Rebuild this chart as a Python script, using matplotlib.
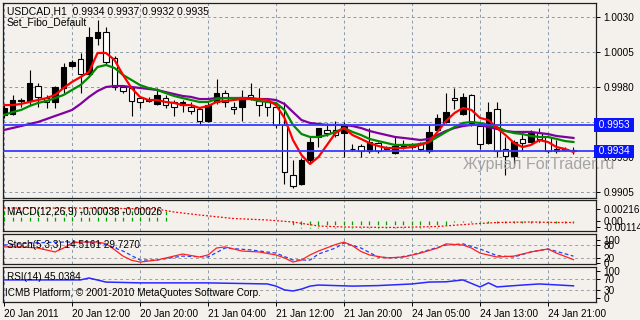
import numpy as np
import matplotlib
matplotlib.use("Agg")
import matplotlib.pyplot as plt

plt.rcParams['font.family'] = ['Liberation Sans', 'DejaVu Sans']

# ---- price data (USDCAD H1), one entry per bar ----
opens = [0.9960, 0.9961, 0.9970, 0.9970, 0.9981, 0.9972, 0.9969, 0.9979, 0.9995, 1.0000,
         0.9989, 1.0015, 1.0019, 1.0001, 0.9980, 0.9979, 0.9972, 0.9971, 0.9968, 0.9972,
         0.9969, 0.9967, 0.9966, 0.9964, 0.9956, 0.9969, 0.9976, 0.9966, 0.9966, 0.9974,
         0.9970, 0.9969, 0.9966, 0.9953, 0.9917, 0.9911, 0.9928, 0.9944, 0.9949, 0.9949,
         0.9947, 0.9936, 0.9938, 0.9934, 0.9940, 0.9937, 0.9933, 0.9937, 0.9937, 0.9940,
         0.9934, 0.9949, 0.9955, 0.9972, 0.9961, 0.9974, 0.9952, 0.9940, 0.9964, 0.9936,
         0.9931, 0.9943, 0.9941, 0.9947, 0.9944, 0.9934, 0.9935, 0.9934]
highs = [0.9967, 0.9974, 0.9972, 0.9992, 0.9983, 0.9974, 0.9981, 0.9997, 0.9999, 1.0004,
         1.0023, 1.0028, 1.0023, 1.0002, 0.9981, 0.9980, 0.9973, 0.9973, 0.9979, 0.9974,
         0.9971, 0.9971, 0.9969, 0.9965, 0.9969, 0.9986, 0.9978, 0.9969, 0.9978, 0.9983,
         0.9979, 0.9972, 0.9967, 0.9969, 0.9928, 0.9929, 0.9944, 0.9951, 0.9954, 0.9956,
         0.9955, 0.9939, 0.9939, 0.9951, 0.9941, 0.9938, 0.9944, 0.9942, 0.9940, 0.9941,
         0.9953, 0.9961, 0.9976, 0.9979, 0.9976, 0.9975, 0.9953, 0.9969, 0.9969, 0.9944,
         0.9942, 0.9947, 0.9949, 0.9951, 0.9946, 0.9942, 0.9937, 0.9937]
lows = [0.9958, 0.9960, 0.9966, 0.9967, 0.9966, 0.9965, 0.9965, 0.9976, 0.9994, 0.9976,
        0.9987, 1.0010, 0.9996, 0.9978, 0.9976, 0.9959, 0.9965, 0.9969, 0.9967, 0.9965,
        0.9959, 0.9962, 0.9961, 0.9953, 0.9955, 0.9968, 0.9966, 0.9961, 0.9956, 0.9971,
        0.9959, 0.9959, 0.9951, 0.9911, 0.9908, 0.9910, 0.9926, 0.9937, 0.9945, 0.9944,
        0.9930, 0.9934, 0.9930, 0.9933, 0.9933, 0.9935, 0.9932, 0.9936, 0.9936, 0.9934,
        0.9933, 0.9948, 0.9954, 0.9964, 0.9960, 0.9952, 0.9936, 0.9939, 0.9930, 0.9917,
        0.9923, 0.9934, 0.9940, 0.9941, 0.9933, 0.9933, 0.9934, 0.9932]
closes = [0.9965, 0.9971, 0.9971, 0.9983, 0.9973, 0.9969, 0.9980, 0.9994, 0.9998, 0.9989,
          1.0016, 1.0019, 0.9998, 0.9980, 0.9977, 0.9970, 0.9969, 0.9970, 0.9974, 0.9967,
          0.9966, 0.9969, 0.9963, 0.9956, 0.9967, 0.9976, 0.9969, 0.9964, 0.9973, 0.9972,
          0.9967, 0.9966, 0.9953, 0.9919, 0.9909, 0.9928, 0.9941, 0.9951, 0.9947, 0.9946,
          0.9953, 0.9936, 0.9934, 0.9941, 0.9934, 0.9936, 0.9938, 0.9939, 0.9939, 0.9936,
          0.9948, 0.9958, 0.9962, 0.9971, 0.9973, 0.9954, 0.9939, 0.9962, 0.9934, 0.9931,
          0.9941, 0.9940, 0.9948, 0.9943, 0.9934, 0.9936, 0.9936, 0.9935]

# moving averages
ma_red = [0.99671, 0.99671, 0.99679, 0.99693, 0.99707, 0.99721, 0.99743, 0.99793, 0.99836, 0.99871,
          0.99907, 1.00043, 1.00043, 0.99993, 0.99886, 0.99793, 0.99729, 0.99707, 0.99707, 0.99693,
          0.99686, 0.99671, 0.99671, 0.99650, 0.99664, 0.99693, 0.99700, 0.99707, 0.99714, 0.99714,
          0.99714, 0.99707, 0.99671, 0.99579, 0.99421, 0.99314, 0.99250, 0.99300, 0.99386, 0.99471,
          0.99507, 0.99457, 0.99429, 0.99400, 0.99379, 0.99364, 0.99364, 0.99364, 0.99371, 0.99386,
          0.99407, 0.99479, 0.99557, 0.99614, 0.99650, 0.99636, 0.99579, 0.99564, 0.99507, 0.99457,
          0.99400, 0.99371, 0.99386, 0.99421, 0.99407, 0.99371, 0.99357, 0.99336]
ma_green = [0.99600, 0.99621, 0.99636, 0.99664, 0.99686, 0.99700, 0.99721, 0.99743, 0.99779, 0.99814,
            0.99871, 0.99943, 0.99957, 0.99936, 0.99886, 0.99850, 0.99814, 0.99793, 0.99779, 0.99757,
            0.99736, 0.99721, 0.99707, 0.99693, 0.99693, 0.99714, 0.99721, 0.99721, 0.99721, 0.99714,
            0.99700, 0.99693, 0.99686, 0.99636, 0.99529, 0.99464, 0.99443, 0.99443, 0.99457, 0.99479,
            0.99507, 0.99479, 0.99457, 0.99429, 0.99414, 0.99400, 0.99386, 0.99386, 0.99386, 0.99393,
            0.99407, 0.99443, 0.99479, 0.99514, 0.99543, 0.99550, 0.99543, 0.99529, 0.99514, 0.99486,
            0.99471, 0.99464, 0.99450, 0.99443, 0.99443, 0.99429, 0.99414, 0.99407]
ma_purple = [0.99493, 0.99507, 0.99521, 0.99536, 0.99550, 0.99571, 0.99593, 0.99614, 0.99636, 0.99679,
             0.99729, 0.99771, 0.99800, 0.99807, 0.99807, 0.99800, 0.99793, 0.99786, 0.99779, 0.99764,
             0.99750, 0.99736, 0.99729, 0.99714, 0.99714, 0.99721, 0.99721, 0.99721, 0.99721, 0.99721,
             0.99714, 0.99714, 0.99707, 0.99679, 0.99621, 0.99564, 0.99543, 0.99536, 0.99529, 0.99529,
             0.99529, 0.99521, 0.99507, 0.99486, 0.99471, 0.99457, 0.99443, 0.99436, 0.99429, 0.99421,
             0.99429, 0.99457, 0.99486, 0.99507, 0.99521, 0.99529, 0.99529, 0.99514, 0.99500, 0.99486,
             0.99479, 0.99479, 0.99479, 0.99471, 0.99464, 0.99450, 0.99443, 0.99436]
levels = [0.9953, 0.9934]
price_ticks = [0.9905, 0.9930, 0.9955, 0.9980, 1.0005, 1.0030]

# MACD(12,26,9)
macd_hist = [0.00215, 0.00218, 0.00220, 0.00222, 0.00224, 0.00225, 0.00226, 0.00228, 0.00230, 0.00232,
             0.00235, 0.00238, 0.00236, 0.00232, 0.00226, 0.00220, 0.00214, 0.00208, 0.00202, 0.00196,
             0.00005, 0.00005, 0.00005, 0.00005, 0.00005, 0.00005, 0.00005, 0.00005, 0.00005, 0.00005,
             0.00005, 0.00005, 0.00005, 0.00005,
             -0.0011, -0.0012, -0.0013, -0.0013, -0.0013, -0.0013, -0.0013, -0.0013, -0.0013, -0.0013,
             -0.0013, -0.0013, -0.0013, -0.0013, -0.0013, -0.0013, -0.0013, -0.0012, -0.0011,
             -0.0001, -0.0001, -0.0001, -0.0001,
             -0.0003, -0.0003, -0.0003, -0.0004, -0.0004, -0.0004, -0.0003, -0.0003, -0.0004, -0.0004, -0.00038]
macd_sig_idx = [0, 10, 18, 20, 23, 27, 31, 34, 37, 40, 46, 51, 55, 58, 62, 65, 67]
macd_sig = [0.00234, 0.00234, 0.00216, 0.00162, 0.00108, 0.00045, 0.00018, -0.00018, -0.0009,
            -0.00108, -0.00117, -0.00099, -0.00054, -0.00027, -0.00018, -0.00027, -0.00026]

# Stochastic(5,3,3)
stoch_idx = [0, 2, 4, 6, 7, 8, 9, 11, 12, 13, 14, 15, 16, 18, 20, 21, 23, 24, 25, 26, 28, 30, 32, 33,
             34, 35, 36, 37, 39, 40, 41, 42, 43, 45, 47, 49, 51, 52, 54, 55, 56, 58, 60, 62, 64, 65, 67]
stoch_main = [70, 70, 65, 48, 65, 87, 91, 91, 84, 58, 30, 12, 4, 13, 30, 39, 26, 35, 65, 70, 52, 48, 35, 22,
              4, 13, 35, 52, 80, 91, 75, 50, 35, 22, 26, 43, 65, 83, 78, 65, 43, 26, 30, 48, 61, 43, 14.5161]
stoch_sig_idx = [0, 3, 7, 10, 12, 14, 16, 18, 21, 24, 26, 29, 32, 34, 36, 37, 39, 40, 42, 44, 46, 48,
                 50, 52, 54, 56, 58, 60, 62, 64, 67]
stoch_sig = [78, 87, 91, 91, 80, 52, 13, 13, 30, 26, 65, 57, 43, 13, 13, 39, 65, 87, 65, 26, 22, 35,
             57, 78, 83, 61, 32, 26, 48, 61, 29.727]

# RSI(14)
rsi_idx = [0, 9, 10, 12, 16, 24, 31, 32, 33, 34, 35, 36, 37, 41, 44, 48, 50, 52, 54, 56, 57, 58, 61, 63, 67]
rsi = [67, 67, 74, 59, 56, 56, 52, 44, 30, 26, 33, 44, 48, 44, 46, 52, 59, 60, 67, 41, 56, 41, 48, 52, 45.0384]

tick_idx = [0, 8, 16, 24, 32, 40, 48, 56, 64]
tick_labels = ["20 Jan 2011", "20 Jan 12:00", "20 Jan 20:00", "21 Jan 04:00", "21 Jan 12:00",
               "21 Jan 20:00", "24 Jan 05:00", "24 Jan 13:00", "24 Jan 21:00"]

BG = '#f4f1ec'
GRID = '#8a9aac'
FS = 7.2
W, H = 640, 320

fig = plt.figure(figsize=(6.4, 3.2), dpi=100, facecolor=BG)


def panel(top, bottom):
    ax = fig.add_axes([3 / W, 1 - bottom / H, 593 / W, (bottom - top) / H])
    ax.set_facecolor(BG)
    ax.set_xlim(-0.12, 69.65)
    ax.set_xticks(tick_idx)
    ax.grid(True, axis='x', color=GRID, lw=0.7, ls=(0, (3, 3)))
    ax.tick_params(axis='x', length=0, labelbottom=False)
    ax.yaxis.tick_right()
    ax.tick_params(axis='y', length=3, width=0.7, pad=2.5, labelsize=FS, colors='black')
    for s in ax.spines.values():
        s.set_color('#202020')
        s.set_linewidth(0.9)
    return ax


# ---- main price window ----
ax = panel(3, 198)
ax.set_ylim(0.990071, 1.00400)
ax.set_yticks(price_ticks)
ax.set_yticklabels(["%.4f" % v for v in price_ticks])
ax.grid(True, axis='y', color=GRID, lw=0.7, ls=(0, (3, 3)))
ax.set_axisbelow(True)

idx = np.arange(len(opens))
o = np.array(opens)
c = np.array(closes)
ax.vlines(idx, lows, highs, color='black', lw=0.8, zorder=3)
body_col = ['black' if cc > oo else 'white' for oo, cc in zip(o, c)]
ax.bar(idx, np.abs(c - o), bottom=np.minimum(o, c), width=0.62, color=body_col,
       edgecolor='black', linewidth=0.8, zorder=4)

ax.plot(idx, ma_purple, color='#8000a0', lw=1.6, zorder=5)
ax.plot(idx, ma_green, color='#008a00', lw=1.6, zorder=6)
ax.plot(idx, ma_red, color='#ff0000', lw=1.6, zorder=7)

for lv in levels:
    ax.axhline(lv, color='#3a3aff', lw=1.3, zorder=8)
    ax.text(1.0, lv, " %.4f " % lv, transform=ax.get_yaxis_transform(), ha='left', va='center',
            fontsize=FS, color='white', zorder=10, clip_on=False,
            bbox=dict(boxstyle='square,pad=0.18', fc='#0a14ff', ec='none'))

fig.text(7 / W, 1 - 12 / H, "USDCAD,H1  0.9934 0.9937 0.9932 0.9935", fontsize=7.5, va='center')
fig.text(7 / W, 1 - 22.5 / H, "Set_Fibo_Default", fontsize=7.5, va='center')
fig.text(463 / W, 1 - 164 / H, "Журнал ForTrader.ru", fontsize=11.5, va='center', color='#a4a4a4')

# ---- MACD window ----
axm = panel(200, 231)
axm.set_ylim(-0.0018, 0.00378)
axm.set_yticks([-0.00114, 0.0, 0.00216])
axm.set_yticklabels(["-0.00114", "0.00", "0.00216"])
axm.vlines(idx, 0, macd_hist, color='#00a000', lw=0.9, linestyles=(0, (3, 2)), zorder=3)
axm.plot(macd_sig_idx, macd_sig, color='#ff0000', lw=0.9, ls=(0, (1.5, 1.5)), zorder=4)
axm.text(0.007, 0.62, "MACD(12,26,9) -0.00038 -0.00026", transform=axm.transAxes,
         fontsize=FS, va='center', zorder=6)

# ---- Stochastic window ----
axs = panel(234, 264)
axs.set_ylim(-4.35, 126)
axs.set_yticks([0, 20, 80, 100])
for lv in (20, 80):
    axs.axhline(lv, color='#a0a0a0', lw=0.7, ls=(0, (3, 3)), zorder=2)
axs.plot(stoch_sig_idx, stoch_sig, color='#2040ff', lw=0.9, ls=(0, (3, 2)), zorder=3)
axs.plot(stoch_idx, stoch_main, color='#ff2020', lw=0.9, zorder=4)
axs.text(0.007, 0.62, "Stoch(5,3,3) 14.5161 29.7270", transform=axs.transAxes,
         fontsize=FS, va='center', zorder=6)

# ---- RSI window ----
axr = panel(267, 302)
axr.set_ylim(-14.8, 114.8)
axr.set_yticks([0, 30, 70, 100])
for lv in (30, 70):
    axr.axhline(lv, color='#a0a0a0', lw=0.7, ls=(0, (3, 3)), zorder=2)
axr.plot(rsi_idx, rsi, color='#2828ff', lw=1.1, zorder=4)
axr.text(0.007, 0.7, "RSI(14) 45.0384", transform=axr.transAxes, fontsize=FS, va='center', zorder=6)
axr.text(0.004, 0.26, "ICMB Platform, © 2001-2010 MetaQuotes Software Corp.", transform=axr.transAxes,
         fontsize=FS, va='center', zorder=6)
axr.tick_params(axis='x', length=3, width=0.7, pad=2, labelbottom=True, labelsize=FS)
axr.set_xticklabels(tick_labels, ha='left')

fig.savefig("out.png", dpi=100, facecolor=BG)
